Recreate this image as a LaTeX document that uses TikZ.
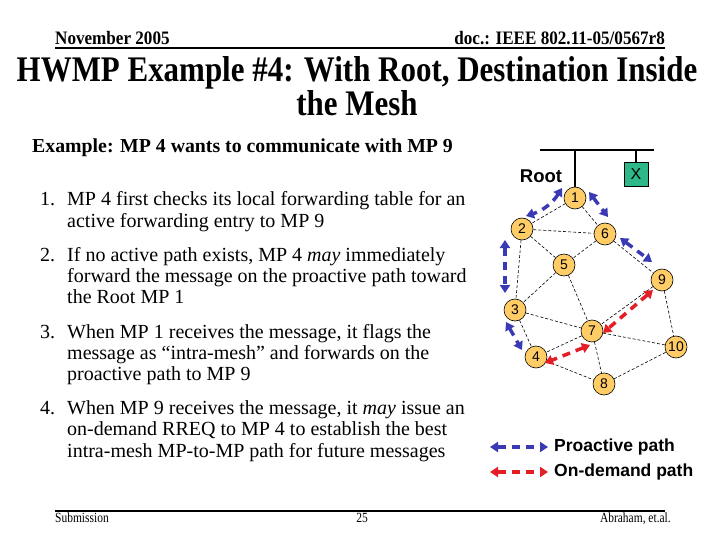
\documentclass[tikz,border=0pt]{standalone}
\usepackage{fontspec}
\setmainfont{Liberation Serif}
\newfontfamily\arialf{Liberation Sans}
\newfontfamily\titlef[FakeStretch=0.86]{Liberation Serif}
\newfontfamily\hdrf[FakeStretch=0.9]{Liberation Serif}
\newfontfamily\ftrf[FakeStretch=0.82]{Liberation Serif}
\usetikzlibrary{arrows.meta}
\definecolor{mpfill}{RGB}{255,204,102}
\definecolor{xgreen}{RGB}{46,184,138}
\definecolor{problue}{RGB}{58,58,180}
\definecolor{odred}{RGB}{228,30,38}
\begin{document}
\begin{tikzpicture}[x=1pt,y=-1pt,
  txt/.style={inner sep=0pt, anchor=base west, font=\fontsize{20}{21}\selectfont},
  mp/.style={circle, draw, fill=mpfill, minimum size=22pt, inner sep=0pt, line width=0.6pt, font=\arialf\fontsize{14}{14}\selectfont},
  link/.style={line width=0.6pt, dash pattern=on 3pt off 2pt},
  patharrow/.style={line width=3.5pt, dash pattern=on 8pt off 6pt, {Triangle[length=8pt,width=10pt]}-{Triangle[length=8pt,width=10pt]}},
  pro/.style={patharrow, problue},
  od/.style={patharrow, odred},
  bar/.style={line width=2pt}]
\useasboundingbox (0,0) rectangle (720,540);
% header
\node[inner sep=0pt, anchor=base west, font=\hdrf\bfseries\fontsize{19}{19}\selectfont] (hl) at (55,45) {November 2005};
\node[inner sep=0pt, anchor=base east, font=\hdrf\bfseries\fontsize{19}{19}\selectfont] (hr) at (665,45) {doc.: IEEE 802.11-05/0567r8};
\coordinate (hla) at (55,48.5);
\coordinate (hlb) at (665,48.5);
\draw[bar] (hla) -- (hlb);
% title
\node[inner sep=0pt, anchor=base, font=\titlef\bfseries\fontsize{36}{36}\selectfont] (t1) at (357,82) {HWMP Example \#4: With Root, Destination Inside};
\node[inner sep=0pt, anchor=base, font=\titlef\bfseries\fontsize{36}{36}\selectfont] (t2) at (357,116) {the Mesh};
% example line
\node[txt, font=\bfseries\fontsize{19.8}{20}\selectfont] (ex) at (32,153) {Example: MP 4 wants to communicate with MP 9};
% items
\node[txt] (n1) at (40,206) {1.};
\node[txt] (l11) at (67,206) {MP 4 first checks its local forwarding table for an};
\node[txt] (l12) at (67,227) {active forwarding entry to MP 9};
\node[txt] (n2) at (40,261) {2.};
\node[txt] (l21) at (67,261) {If no active path exists, MP 4 \textit{may} immediately};
\node[txt] (l22) at (67,282) {forward the message on the proactive path toward};
\node[txt] (l23) at (67,303) {the Root MP 1};
\node[txt] (n3) at (40,338) {3.};
\node[txt] (l31) at (67,338) {When MP 1 receives the message, it flags the};
\node[txt] (l32) at (67,359) {message as “intra-mesh” and forwards on the};
\node[txt] (l33) at (67,380) {proactive path to MP 9};
\node[txt] (n4) at (40,414) {4.};
\node[txt] (l41) at (67,414) {When MP 9 receives the message, it \textit{may} issue an};
\node[txt] (l42) at (67,435) {on-demand RREQ to MP 4 to establish the best};
\node[txt] (l43) at (67,457) {intra-mesh MP-to-MP path for future messages};
% footer
\coordinate (fla) at (55,511);
\coordinate (flb) at (665,511);
\draw[bar] (fla) -- (flb);
\node[inner sep=0pt, anchor=base west, font=\ftrf\fontsize{14}{14}\selectfont] (fs) at (55,522) {Submission};
\node[inner sep=0pt, anchor=base, font=\ftrf\fontsize{14}{14}\selectfont] (fp) at (362,522) {25};
\node[inner sep=0pt, anchor=base east, font=\ftrf\fontsize{14}{14}\selectfont] (fa) at (671,522) {Abraham, et.al.};
% mesh nodes
\node[mp] (m1) at (575,198) {1};
\node[mp] (m2) at (522,229) {2};
\node[mp] (m6) at (605,234) {6};
\node[mp] (m5) at (564,265) {5};
\node[mp] (m9) at (662,280) {9};
\node[mp] (m3) at (515,310) {3};
\node[mp] (m7) at (592,331) {7};
\node[mp] (m10) at (676,347) {10};
\node[mp] (m4) at (536,357) {4};
\node[mp] (m8) at (604,384) {8};
% links
\draw[link] (m1) -- (m2);
\draw[link] (m1) -- (m6);
\draw[link] (m2) -- (m6);
\draw[link] (m2) -- (m5);
\draw[link] (m2) -- (m3);
\draw[link] (m6) -- (m5);
\draw[link] (m6) -- (m9);
\draw[link] (m5) -- (m3);
\draw[link] (m5) -- (m7);
\draw[link] (m3) -- (m7);
\draw[link] (m3) -- (m4);
\draw[link] (m9) -- (m7);
\draw[link] (m9) -- (m10);
\draw[link] (m7) -- (m4);
\draw[link] (m7) -- (m10);
\draw[link] (m7) -- (m8);
\draw[link] (m4) -- (m8);
\draw[link] (m8) -- (m10);
% root bus and X
\node[inner sep=0pt, anchor=base, font=\arialf\bfseries\fontsize{18.5}{18.5}\selectfont] (root) at (541,183) {Root};
\node[draw, fill=xgreen, minimum width=24pt, minimum height=24pt, inner sep=0pt, line width=0.8pt, font=\arialf\fontsize{16}{16}\selectfont] (x) at (636,174) {X};
\coordinate (busl) at (540,150);
\coordinate (busr) at (654,150);
\coordinate (bus1) at (575,150);
\coordinate (busx) at (636,150);
\draw[bar] (busl) -- (busr);
\draw[bar] (bus1) -- (m1.north);
\draw[line width=1.5pt] (busx) -- (x.north);
% path arrows
\coordinate (a12s) at (562,188);
\coordinate (a12e) at (526,216);
\coordinate (a23s) at (505,240);
\coordinate (a23e) at (505,293);
\coordinate (a34s) at (506,322);
\coordinate (a34e) at (522,350);
\coordinate (a16s) at (589,192);
\coordinate (a16e) at (608,217);
\coordinate (a69s) at (620,238);
\coordinate (a69e) at (652,262);
\coordinate (a97s) at (653,290);
\coordinate (a97e) at (603,333);
\coordinate (a74s) at (590,345);
\coordinate (a74e) at (545,363);
\draw[pro] (a12s) to[bend left=20] (a12e);
\draw[pro] (a23s) -- (a23e);
\draw[pro] (a34s) -- (a34e);
\draw[pro] (a16s) -- (a16e);
\draw[pro] (a69s) -- (a69e);
\draw[od] (a97s) -- (a97e);
\draw[od] (a74s) -- (a74e);
% legend
\coordinate (lbs) at (490,447);
\coordinate (lbe) at (548,447);
\coordinate (lrs) at (490,472);
\coordinate (lre) at (548,472);
\draw[pro] (lbs) -- (lbe);
\draw[od] (lrs) -- (lre);
\node[inner sep=0pt, anchor=west, font=\arialf\bfseries\fontsize{17.5}{17.5}\selectfont] (lgb) at (554,447) {Proactive path};
\node[inner sep=0pt, anchor=west, font=\arialf\bfseries\fontsize{17.5}{17.5}\selectfont] (lgr) at (554,472) {On-demand path};
\end{tikzpicture}
\end{document}
